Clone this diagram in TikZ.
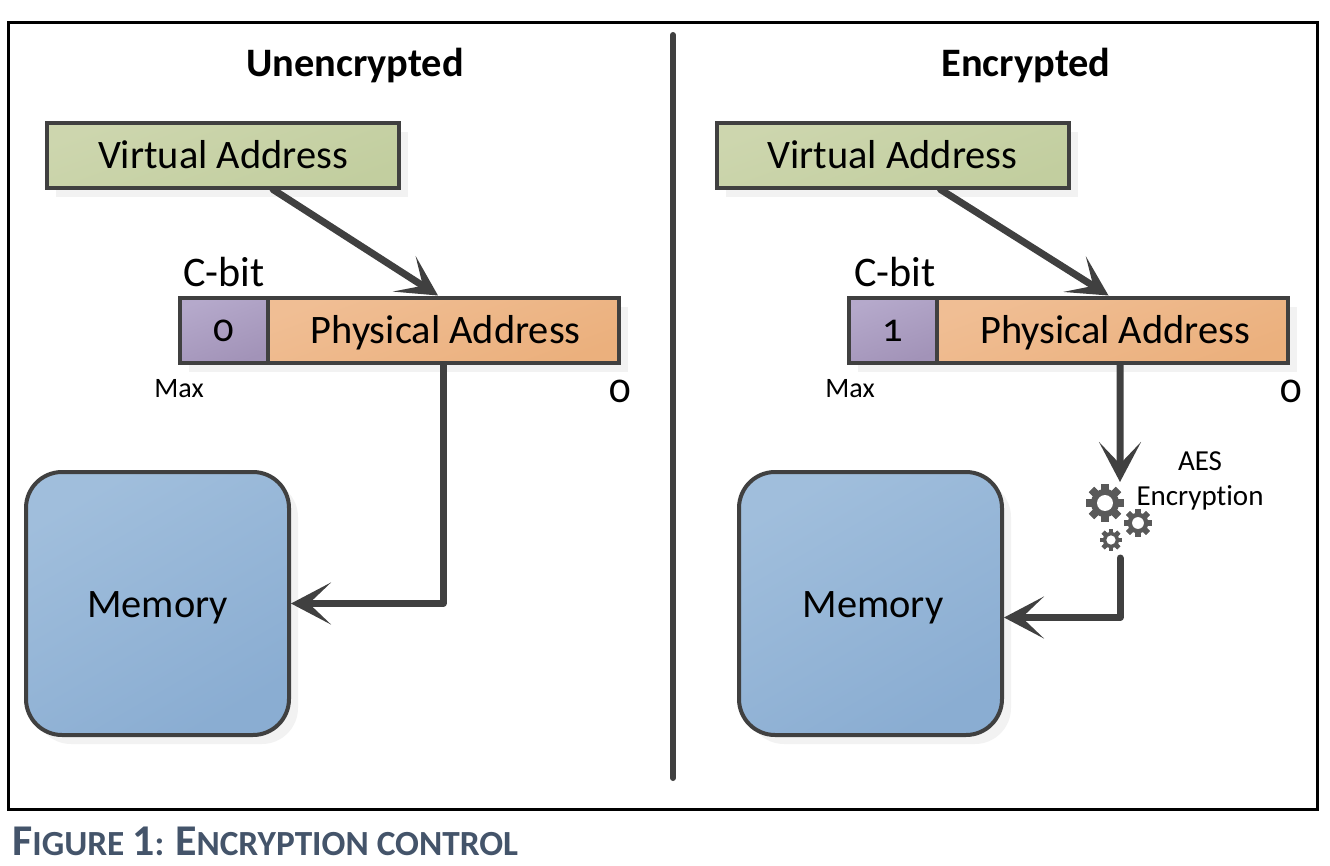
\documentclass[tikz,border=0pt]{standalone}
\usepackage{fontspec}
\setmainfont[Numbers=OldStyle,Ligatures=NoCommon]{Carlito}
\usetikzlibrary{arrows.meta,shadows}
\definecolor{edgegray}{HTML}{404040}
\definecolor{captionblue}{HTML}{44546A}
\def\px{0.02cm}
\tikzset{
  block/.style={draw=edgegray, line width=4*\px, inner sep=0pt, text=black, font=\fontsize{23}{28}\selectfont,
    drop shadow={shadow xshift=9*\px, shadow yshift=-9*\px, fill=black, opacity=0.05}},
  vabox/.style={block, minimum width=352*\px, minimum height=65*\px, left color=green1, right color=green2, shading angle=20},
  cbox/.style={block, minimum width=88*\px, minimum height=65*\px, text height=13pt, text depth=0pt, left color=purple1, right color=purple2, shading angle=20},
  pabox/.style={block, minimum width=351*\px, minimum height=65*\px, text height=20pt, text depth=5pt, left color=orange1, right color=orange2, shading angle=20},
  membox/.style={block, rounded corners=36*\px, minimum width=263*\px, minimum height=263*\px, text height=20.7pt, text depth=5pt, left color=blue1, right color=blue2, shading angle=30},
  flow/.style={draw=edgegray, line width=7*\px, line cap=round, line join=round, -{Stealth[length=40*\px, width=42*\px, inset=22*\px]}},
  heading/.style={font=\fontsize{23}{26}\bfseries\selectfont},
  small/.style={font=\fontsize{16}{18}\selectfont},
  caps/.style={font=\fontsize{24}{28}\selectfont}
}
\definecolor{green1}{HTML}{CDD6AE}
\definecolor{green2}{HTML}{C2CE9F}
\definecolor{purple1}{HTML}{B5A9CB}
\definecolor{purple2}{HTML}{A293B8}
\definecolor{orange1}{HTML}{F0BE94}
\definecolor{orange2}{HTML}{EBB07D}
\definecolor{blue1}{HTML}{A0BEDC}
\definecolor{blue2}{HTML}{8AADD2}
\newcommand{\gearicon}[3]{
  \begin{scope}[shift={(#1,#2)}]
    \fill[black!65] (0,0) circle [radius=0.74*#3];
    \foreach \theta in {0,45,...,315}{
      \fill[black!65, rotate=\theta] (-0.2*#3,-#3) rectangle (0.2*#3,#3);
    }
    \fill[white] (0,0) circle [radius=0.42*#3];
  \end{scope}
}
\newcommand{\capletter}[1]{{\fontsize{25}{28}\bfseries\selectfont #1}}
\begin{document}
\begin{tikzpicture}[x=0.02cm,y=-0.02cm]
  \useasboundingbox (0,0) rectangle (1330,866);
  \draw[black, line width=3*\px] (8,22) rectangle (1317,809);
  \draw[edgegray, line width=6*\px, line cap=round] (673,35) -- (673,778);

  \node[heading] (titleL) at (355,65) {Unencrypted};
  \node[heading] (titleR) at (1026,65) {Encrypted};

  % left side
  \node[vabox] (vaL) at (223,155) {Virtual Address};
  \node[cbox] (cL) at (224,330) {0};
  \node[pabox] (paL) at (443,330) {\hspace{3pt}Physical Address};
  \node[membox] (memL) at (157.5,603.5) {Memory};
  \node[caps] (cbitL) at (224,272) {C-bit};
  \node[small] (maxL) at (179,389) {Max};
  \node[caps] (zeroL) at (620,391) {0};

  % right side
  \node[vabox] (vaR) at (892.5,155) {Virtual Address};
  \node[cbox] (cR) at (893,330) {1};
  \node[pabox] (paR) at (1112.5,330) {\hspace{3pt}Physical Address};
  \node[membox] (memR) at (870.5,603.5) {\hspace{3pt}Memory};
  \node[caps] (cbitR) at (895,272) {C-bit};
  \node[small] (maxR) at (850,389) {Max};
  \node[caps] (zeroR) at (1291,391) {0};
  \node[font=\fontsize{16.5}{20}\selectfont, align=center] (aes) at (1200,481) {AES\\Encryption};

  \foreach \gx/\gy/\gr in {1105/503/19,1138/523/14,1111/540/11}{
    \gearicon{\gx}{\gy}{\gr}
  }
  \coordinate (cipherIn) at (1120,482);
  \coordinate (cipherOut) at (1120,558);

  \draw[flow] ([xshift=50*\px]vaL.south) -- ([xshift=-5*\px]paL.north);
  \draw[flow] (paL.south) |- (memL.east);
  \draw[flow] ([xshift=48*\px]vaR.south) -- ([xshift=-4*\px]paR.north);
  \draw[flow] ([xshift=7.5*\px]paR.south) -- (cipherIn);
  \draw[flow] (cipherOut) |- ([yshift=-14*\px]memR.east);

  \node[anchor=west, text=captionblue, font=\fontsize{20.1}{25}\bfseries\selectfont] (caption) at (6,841) {\capletter{F}IGURE \capletter{\addfontfeatures{Numbers=Lining}1}: \capletter{E}NCRYPTION CONTROL};
\end{tikzpicture}
\end{document}
